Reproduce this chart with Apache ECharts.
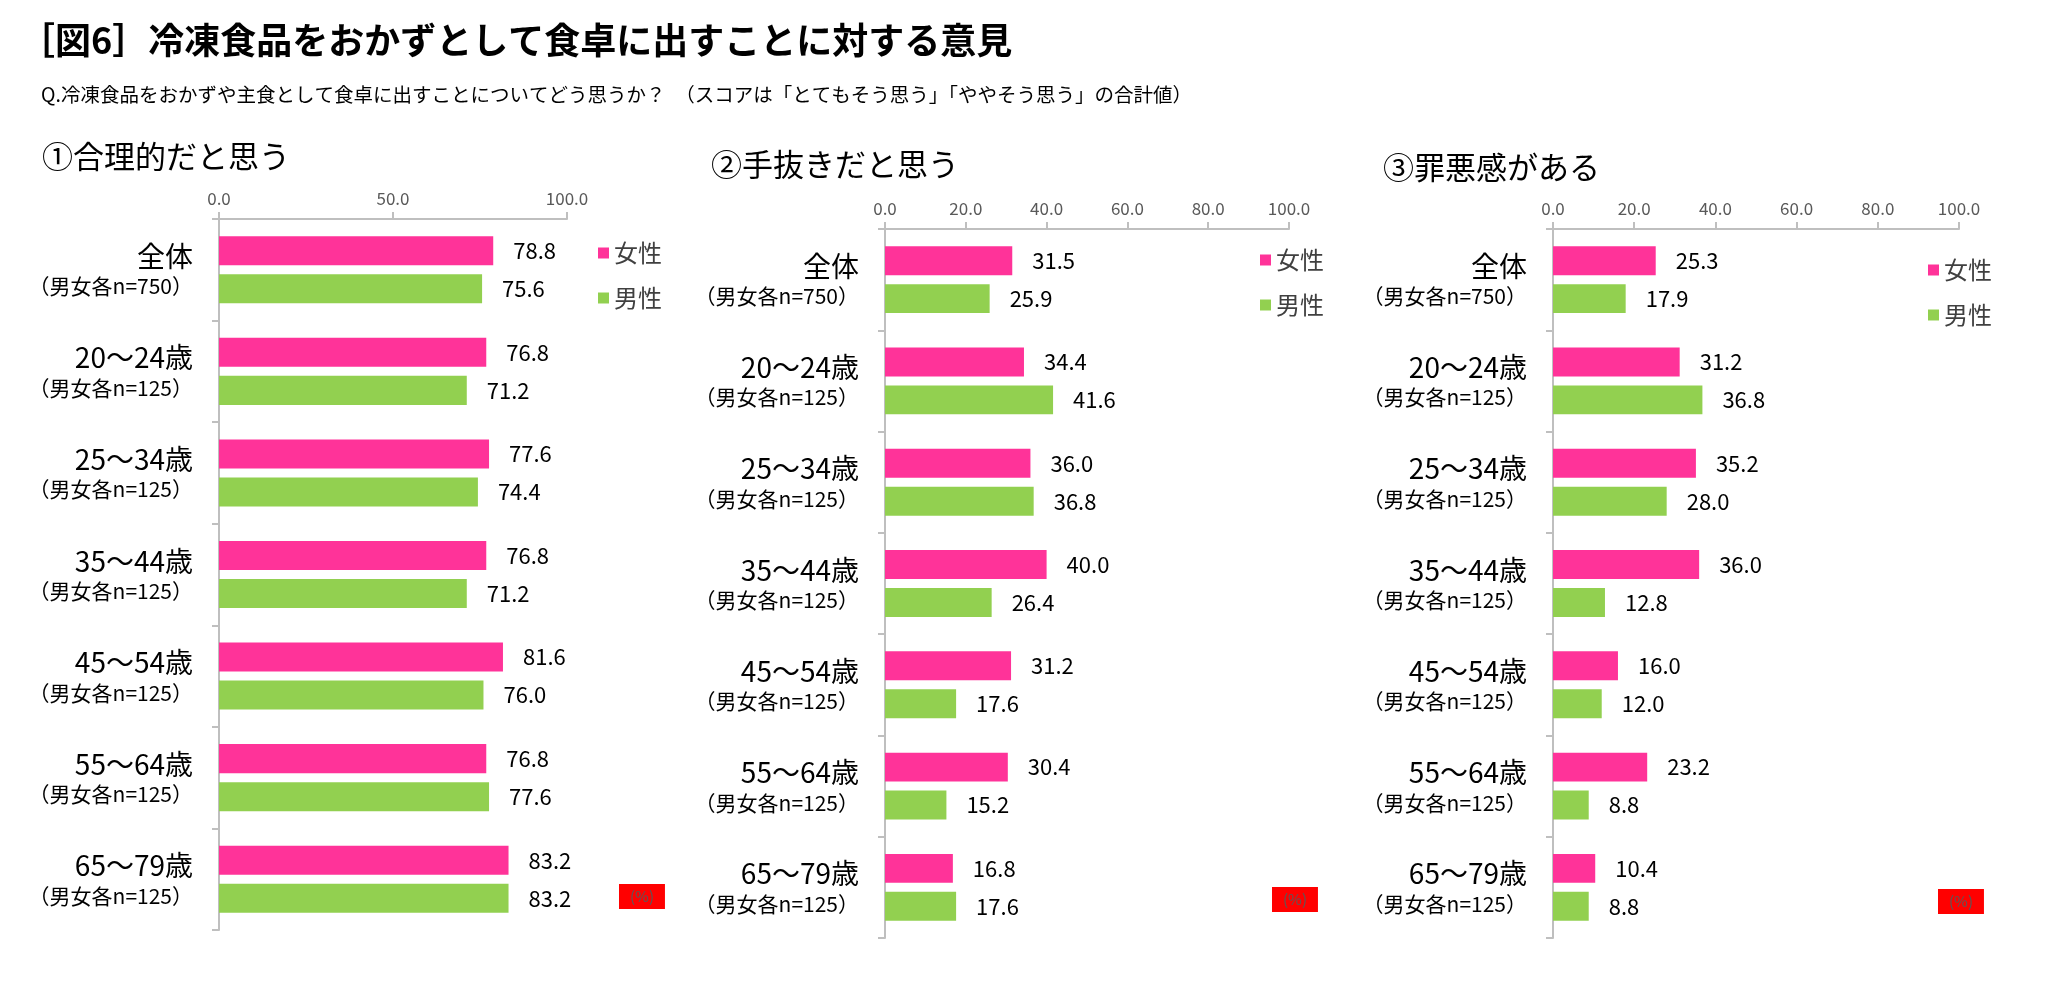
<!DOCTYPE html>
<html>
<head>
<meta charset="utf-8">
<title>冷凍食品をおかずとして食卓に出すことに対する意見</title>
<script src="https://cdn.jsdelivr.net/npm/echarts@6/dist/echarts.min.js"></script>
<style>
    html, body { margin: 0; padding: 0; background: #fff; }
    #main { width: 2048px; height: 995px; }
</style>
</head>
<body>
<div id="main"></div>
<script>
    // カテゴリ（上から順）
    var categories = ['全体', '20〜24歳', '25〜34歳', '35〜44歳', '45〜54歳', '55〜64歳', '65〜79歳'];
    var sampleLabels = ['（男女各n=750）', '（男女各n=125）', '（男女各n=125）', '（男女各n=125）',
        '（男女各n=125）', '（男女各n=125）', '（男女各n=125）'];
    var seriesNames = ['女性', '男性'];

    // ①合理的だと思う
    var femaleReasonable = [78.8, 76.8, 77.6, 76.8, 81.6, 76.8, 83.2];
    var maleReasonable = [75.6, 71.2, 74.4, 71.2, 76.0, 77.6, 83.2];
    // ②手抜きだと思う
    var femaleLazy = [31.5, 34.4, 36.0, 40.0, 31.2, 30.4, 16.8];
    var maleLazy = [25.9, 41.6, 36.8, 26.4, 17.6, 15.2, 17.6];
    // ③罪悪感がある
    var femaleGuilt = [25.3, 31.2, 35.2, 36.0, 16.0, 23.2, 10.4];
    var maleGuilt = [17.9, 36.8, 28.0, 12.8, 12.0, 8.8, 8.8];

    // 目盛り間隔
    var tickIntervals = [50, 20, 20];

    var PINK = '#FF3399';
    var GREEN = '#92D050';
    var AXIS_GREY = '#BFBFBF';
    var FONT = '"Noto Sans CJK JP", "Noto Sans", sans-serif';

    var panels = [
        { title: '①合理的だと思う', titleLeft: 37, titleTop: 136,
          grid: { left: 219, top: 219, width: 348, height: 711 },
          legend: { left: 598, top: 241 }, unit: { left: 619, top: 884 },
          female: femaleReasonable, male: maleReasonable },
        { title: '②手抜きだと思う', titleLeft: 706, titleTop: 144,
          grid: { left: 885, top: 229, width: 404, height: 709 },
          legend: { left: 1260, top: 248 }, unit: { left: 1272, top: 887 },
          female: femaleLazy, male: maleLazy },
        { title: '③罪悪感がある', titleLeft: 1378, titleTop: 147,
          grid: { left: 1553, top: 229, width: 406, height: 709 },
          legend: { left: 1928, top: 258 }, unit: { left: 1938, top: 889 },
          female: femaleGuilt, male: maleGuilt }
    ];

    var titles = [
        { text: '［図6］冷凍食品をおかずとして食卓に出すことに対する意見', left: 14, top: 17,
          textStyle: { fontSize: 36, fontWeight: 'bold', color: '#000', fontFamily: FONT } },
        { text: 'Q.冷凍食品をおかずや主食として食卓に出すことについてどう思うか？　（スコアは「とてもそう思う」「ややそう思う」の合計値）',
          left: 36, top: 80,
          textStyle: { fontSize: 19.5, fontWeight: 'normal', color: '#000', fontFamily: FONT } }
    ];
    var grids = [], xAxes = [], yAxes = [], legends = [], series = [];

    panels.forEach(function (p, i) {
        titles.push({ text: p.title, left: p.titleLeft, top: p.titleTop,
            textStyle: { fontSize: 31, fontWeight: 'normal', color: '#000', fontFamily: FONT } });
        // 単位の赤い箱
        titles.push({ text: '(%)', left: p.unit.left, top: p.unit.top, padding: [5, 11],
            backgroundColor: '#FF0000',
            textStyle: { fontSize: 15, fontWeight: 'normal', color: '#595959', fontFamily: FONT } });

        grids.push(p.grid);

        xAxes.push({
            type: 'value', gridIndex: i, position: 'top',
            min: 0, max: 100, interval: tickIntervals[i],
            axisLine: { show: true, lineStyle: { color: AXIS_GREY, width: 2 } },
            axisTick: { show: true, length: 7, lineStyle: { color: AXIS_GREY, width: 2 } },
            splitLine: { show: false },
            axisLabel: { margin: 12, fontSize: 17, color: '#595959', fontFamily: FONT,
                formatter: function (v) { return v.toFixed(1); } }
        });

        yAxes.push({
            type: 'category', gridIndex: i, inverse: true, data: categories,
            axisLine: { lineStyle: { color: AXIS_GREY, width: 2 } },
            axisTick: { show: true, length: 7, lineStyle: { color: AXIS_GREY, width: 2 } },
            axisLabel: {
                margin: 26, align: 'right', fontFamily: FONT,
                formatter: function (v) {
                    var idx = categories.indexOf(v);
                    return '{a|' + v + '}\n{b|' + sampleLabels[idx] + '}';
                },
                rich: {
                    a: { fontSize: 28, lineHeight: 33, color: '#000', align: 'right', fontFamily: FONT },
                    b: { fontSize: 21, lineHeight: 27, color: '#000', align: 'right', fontFamily: FONT }
                }
            }
        });

        legends.push({
            data: seriesNames, orient: 'vertical', left: p.legend.left, top: p.legend.top,
            padding: 0, itemGap: 21, itemWidth: 11, itemHeight: 11, icon: 'rect',
            textStyle: { fontSize: 24, lineHeight: 24, color: '#404040', fontFamily: FONT }
        });

        [p.female, p.male].forEach(function (vals, k) {
            series.push({
                name: seriesNames[k], type: 'bar', xAxisIndex: i, yAxisIndex: i,
                data: vals, barGap: '31%', barCategoryGap: '34%',
                itemStyle: { color: k === 0 ? PINK : GREEN },
                label: { show: true, position: 'right', distance: 20, fontSize: 22,
                    color: '#000', fontFamily: FONT,
                    formatter: function (d) { return d.value.toFixed(1); } },
                animation: false
            });
        });
    });

    var myChart = echarts.init(document.getElementById('main'));
    myChart.setOption({
        backgroundColor: '#fff',
        animation: false,
        textStyle: { fontFamily: FONT },
        title: titles,
        grid: grids,
        xAxis: xAxes,
        yAxis: yAxes,
        legend: legends,
        series: series
    });
</script>
</body>
</html>
